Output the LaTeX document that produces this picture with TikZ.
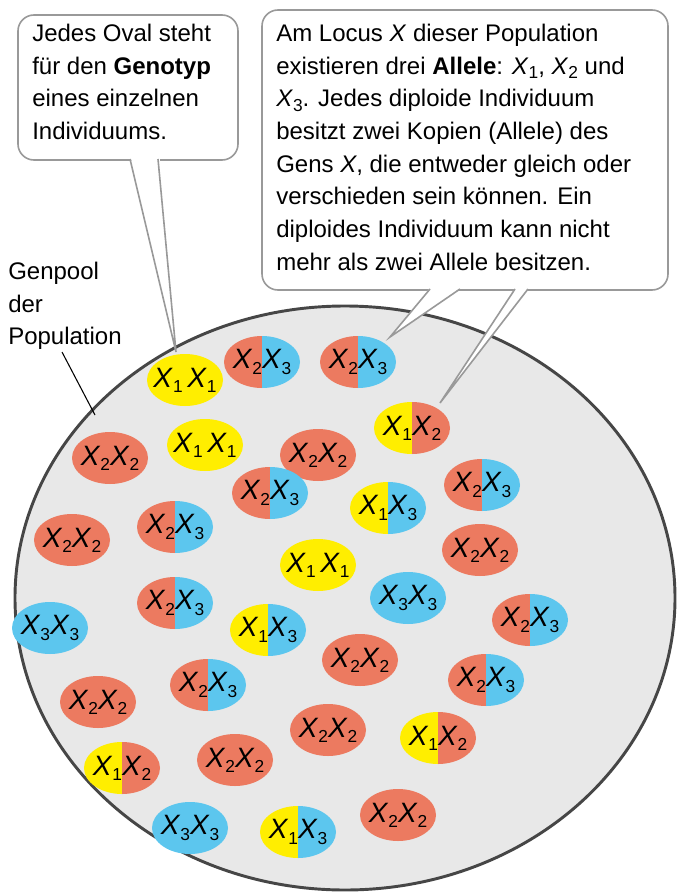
\documentclass[tikz,border=0pt]{standalone}
\usepackage{fontspec}
\setmainfont{Liberation Sans}
\definecolor{cr}{RGB}{236,122,96}
\definecolor{cy}{RGB}{255,238,0}
\definecolor{cb}{RGB}{92,198,238}
\definecolor{cg}{RGB}{232,232,232}
\definecolor{cd}{RGB}{70,70,70}
\newcommand{\xx}[1]{\textit{X}\raisebox{-0.35ex}{\fontsize{13}{13}\selectfont #1}}
\newcommand{\gt}[5]{%
 \begin{scope}
  \clip (#1,#2) ellipse [x radius=38, y radius=26];
  \fill[#3] (#1-40,#2-30) rectangle (#1,#2+30);
  \fill[#4] (#1,#2-30) rectangle (#1+40,#2+30);
 \end{scope}
 \node[font=\fontsize{21}{21}\selectfont,inner sep=0] at (#1,#2) {#5};}
\begin{document}
\begin{tikzpicture}[x=0.75pt,y=-0.75pt,
  callout/.style={draw=gray!80,line width=1.2pt,fill=white,rounded corners=12pt},
  txt/.style={font=\fontsize{18}{24.5}\selectfont,align=left,anchor=north west,inner sep=0}]
\useasboundingbox (0,0) rectangle (685,895);
\fill[cg] (345,598) ellipse [x radius=330, y radius=292];
\draw[cd,line width=2.2pt] (345,598) ellipse [x radius=330, y radius=292];
% genotypes
\gt{185}{380}{cy}{cy}{\xx1\,\xx1}
\gt{262}{362}{cr}{cb}{\xx2\xx3}
\gt{358}{362}{cr}{cb}{\xx2\xx3}
\gt{412}{428}{cy}{cr}{\xx1\xx2}
\gt{110}{458}{cr}{cr}{\xx2\xx2}
\gt{205}{445}{cy}{cy}{\xx1\,\xx1}
\gt{318}{455}{cr}{cr}{\xx2\xx2}
\gt{482}{485}{cr}{cb}{\xx2\xx3}
\gt{270}{493}{cr}{cb}{\xx2\xx3}
\gt{388}{508}{cy}{cb}{\xx1\xx3}
\gt{72}{540}{cr}{cr}{\xx2\xx2}
\gt{175}{527}{cr}{cb}{\xx2\xx3}
\gt{318}{565}{cy}{cy}{\xx1\,\xx1}
\gt{480}{550}{cr}{cr}{\xx2\xx2}
\gt{408}{598}{cb}{cb}{\xx3\xx3}
\gt{175}{603}{cr}{cb}{\xx2\xx3}
\gt{50}{628}{cb}{cb}{\xx3\xx3}
\gt{268}{630}{cy}{cb}{\xx1\xx3}
\gt{530}{620}{cr}{cb}{\xx2\xx3}
\gt{360}{660}{cr}{cr}{\xx2\xx2}
\gt{98}{702}{cr}{cr}{\xx2\xx2}
\gt{208}{685}{cr}{cb}{\xx2\xx3}
\gt{486}{680}{cr}{cb}{\xx2\xx3}
\gt{328}{730}{cr}{cr}{\xx2\xx2}
\gt{438}{738}{cy}{cr}{\xx1\xx2}
\gt{122}{768}{cy}{cr}{\xx1\xx2}
\gt{235}{760}{cr}{cr}{\xx2\xx2}
\gt{398}{815}{cr}{cr}{\xx2\xx2}
\gt{190}{828}{cb}{cb}{\xx3\xx3}
\gt{298}{832}{cy}{cb}{\xx1\xx3}
% callouts
\draw[callout] (18,15) rectangle (238,160);
\fill[white] (129,150) -- (176,350) -- (159,150) -- cycle;
\draw[gray!80,line width=1.2pt] (130,159) -- (176,352) -- (158,159);
\draw[callout] (262,10) rectangle (668,290);
\fill[white] (430,288) -- (390,337) -- (460,288) -- cycle;
\draw[gray!80,line width=1.2pt] (430,289) -- (390,337) -- (460,289);
\fill[white] (515,288) -- (440,403) -- (528,288) -- cycle;
\draw[gray!80,line width=1.2pt] (515,289) -- (440,403) -- (528,289);
\node[txt] (c1) at (32,24) {Jedes Oval steht\\für den \textbf{Genotyp}\\eines einzelnen\\Individuums.};
\node[txt] (c2) at (276,24) {Am Locus \textit{X} dieser Population\\existieren drei \textbf{Allele}: \xx1, \xx2 und\\\xx3. Jedes diploide Individuum\\besitzt zwei Kopien (Allele) des\\Gens \textit{X}, die entweder gleich oder\\verschieden sein können. Ein\\diploides Individuum kann nicht\\mehr als zwei Allele besitzen.};
\node[txt] (gp) at (8,262) {Genpool\\der\\Population};
\draw[black,line width=0.8pt] (62,352) -- (95,415);
\end{tikzpicture}
\end{document}
